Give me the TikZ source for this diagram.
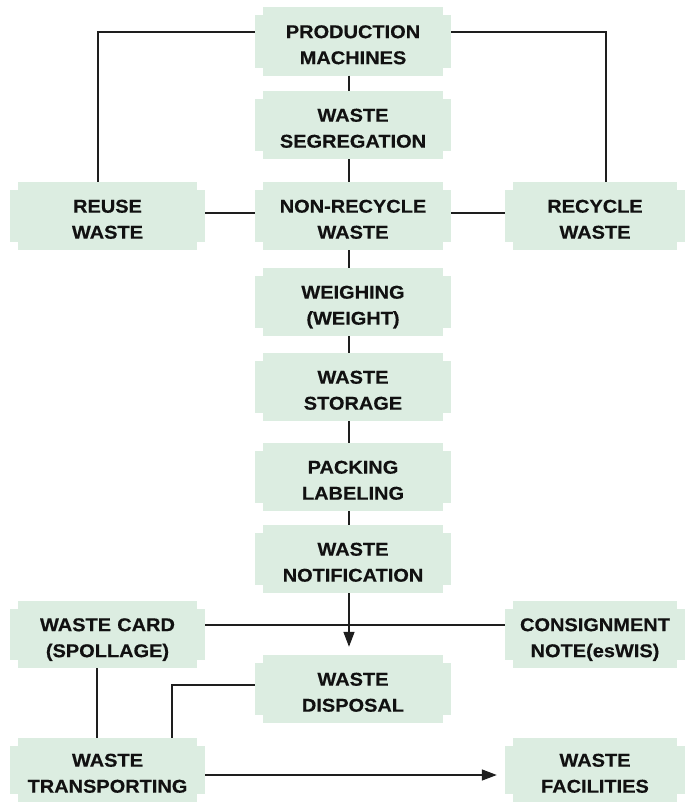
\documentclass[tikz,border=0pt]{standalone}
\usepackage{fontspec}
\setmainfont{Liberation Sans}[FakeStretch=1.08,BoldFeatures={FakeBold=0.4}]
\usetikzlibrary{calc,backgrounds,arrows.meta}
\definecolor{boxfill}{RGB}{220,237,225}
\definecolor{linec}{RGB}{30,30,30}
\definecolor{txt}{RGB}{17,17,17}
\begin{document}
\begin{tikzpicture}[x=1pt,y=-1pt,
  box/.style={inner sep=0pt, minimum height=68pt, text height=10pt, text depth=16.7pt, align=center, font=\fontsize{18.5}{26}\selectfont\bfseries, text=txt},
  cbox/.style={box, minimum width=196pt, text width=190pt},
  lbox/.style={box, minimum width=195pt, text width=190pt},
  rbox/.style={box, minimum width=180pt, text width=176pt},
  conn/.style={draw=linec, line width=1.2pt},
  arr/.style={conn, line width=1.4pt, -{Triangle[length=15pt,width=11pt]}, shorten >=8pt}]
\useasboundingbox (0,0) rectangle (690,802);
% centre column
\node[cbox] (pm) at (353,41.5) {PRODUCTION\\MACHINES};
\node[cbox] (seg) at (353,125) {WASTE\\SEGREGATION};
\node[cbox] (nonrec) at (353,216) {NON-RECYCLE\\WASTE};
\node[cbox] (weigh) at (353,302) {WEIGHING\\(WEIGHT)};
\node[cbox] (stor) at (353,387) {WASTE\\STORAGE};
\node[cbox] (pack) at (353,477) {PACKING\\LABELING};
\node[cbox] (notif) at (353,559) {WASTE\\NOTIFICATION};
\node[cbox] (disp) at (353,689) {WASTE\\DISPOSAL};
% sides
\node[lbox] (reuse) at (107.5,216) {REUSE\\WASTE};
\node[rbox] (recyc) at (595,216) {RECYCLE\\WASTE};
\node[lbox, minimum height=67pt] (card) at (107.5,634.5) {WASTE CARD\\(SPOLLAGE)};
\node[rbox, minimum height=67pt] (consign) at (595,634.5) {CONSIGNMENT\\NOTE(esWIS)};
\node[lbox, minimum height=64pt] (trans) at (107.5,770) {WASTE\\TRANSPORTING};
\node[rbox, minimum height=64pt] (fac) at (595,770) {WASTE\\FACILITIES};
% notched backgrounds
\begin{scope}[on background layer]
\foreach \n in {pm,seg,nonrec,weigh,stor,pack,notif,disp,reuse,recyc,card,consign,trans,fac}{
  \fill[boxfill] ($(\n.south west)+(0,8pt)$) rectangle ($(\n.north east)+(0,-8pt)$);
  \fill[boxfill] ($(\n.south west)+(8pt,0)$) rectangle ($(\n.north east)+(-8pt,0)$);
}
\end{scope}
% connectors
\draw[conn] ($(pm.west)+(0,9.5pt)$) -| ($(reuse.north)+(-9.5pt,0)$);
\draw[conn] ($(pm.east)+(0,9.5pt)$) -| ($(recyc.north)+(11pt,0)$);
\foreach \a/\b in {pm/seg,seg/nonrec,nonrec/weigh,weigh/stor,stor/pack,pack/notif}{
  \draw[conn] ($(\a.south)+(-4pt,0)$) -- ($(\b.north)+(-4pt,0)$);
}
\draw[conn] ($(reuse.east)+(0,3pt)$) -- ($(nonrec.west)+(0,3pt)$);
\draw[conn] ($(nonrec.east)+(0,3pt)$) -- ($(recyc.west)+(0,3pt)$);
\draw[conn] ($(card.east)+(0,9.5pt)$) -- ($(consign.west)+(0,9.5pt)$);
\draw[arr] ($(notif.south)+(-4pt,0)$) -- ($(disp.north)+(-4pt,0)$);
\draw[conn] ($(card.south)+(-10.5pt,0)$) -- ($(trans.north)+(-10.5pt,0)$);
\draw[conn] ($(disp.west)+(0,4pt)$) -| ($(trans.north)+(64.5pt,0)$);
\draw[arr] ($(trans.east)+(0,-5pt)$) -- ($(fac.west)+(0,-5pt)$);
\end{tikzpicture}
\end{document}
